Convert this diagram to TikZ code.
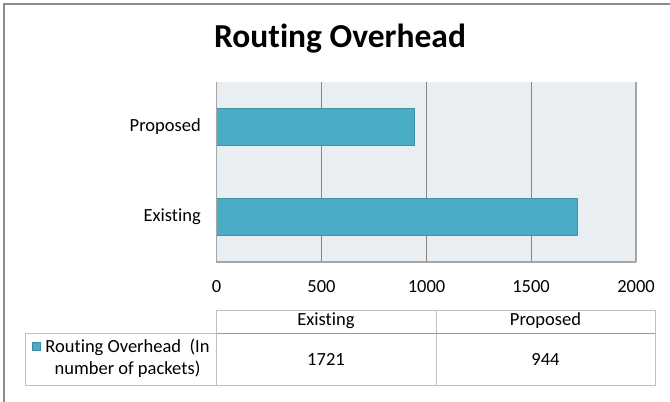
\documentclass[tikz,border=0pt]{standalone}
\usepackage{fontspec}
\setmainfont[Ligatures=NoCommon]{Carlito}
\begin{document}
\begin{tikzpicture}[x=1pt,y=-1pt,
  lbl/.style={font=\fontsize{18.5}{22}\selectfont, inner sep=0pt},
  grid/.style={draw=black!48, line width=1pt},
  axisline/.style={draw=black!35, line width=1.2pt},
  bar/.style={fill=barblue, draw=barblue!85!black, line width=0.8pt},
  cell/.style={draw=black!25, line width=1pt}]
\definecolor{barblue}{HTML}{4BACC6}
\definecolor{plotbg}{HTML}{E8EEF2}
\useasboundingbox (0,0) rectangle (670,402);
\fill[white] (0,0) rectangle (670,402);
% outer chart frame
\draw[draw=black!45, line width=2pt] (4,402) -- (4,4) -- (670,4);
% title
\node[font=\bfseries\fontsize{33.5}{38}\selectfont, inner sep=0pt] (title) at (340,38.5) {Routing Overhead};
% plot area
\fill[plotbg] (216.5,82) rectangle (636,262);
\foreach \v/\x in {500/321.5,1000/426.5,1500/531}
  \draw[grid] (\x,82) -- (\x,262);
\draw[axisline] (636,82) -- (636,262);
% bars
\draw[bar] (216.5,108.5) rectangle (414.7,145.3);
\draw[bar] (216.5,198.5) rectangle (577.6,235.3);
\draw[axisline] (216.5,82) -- (216.5,262) -- (636,262);
% category labels
\node[lbl, anchor=east] (cprop) at (201,127) {Proposed};
\node[lbl, anchor=east] (cexist) at (201,217) {Existing};
% value axis labels
\foreach \v/\x in {0/216.5,500/321.5,1000/426.5,1500/531,2000/636}
  \node[lbl] (t\v) at (\x,286.5) {\v};
% data table
\draw[cell] (216.5,310) rectangle (436,333);
\draw[cell] (436,310) rectangle (655,333);
\draw[cell] (25,333) rectangle (216.5,385);
\draw[cell] (216.5,333) rectangle (436,385);
\draw[cell] (436,333) rectangle (655,385);
\draw[draw=black!40, line width=1pt] (216.5,333) -- (655,333);
\node[lbl] (hexist) at (326,321) {Existing};
\node[lbl] (hprop) at (545.5,321) {Proposed};
\node[lbl] (vexist) at (326,359) {1721};
\node[lbl] (vprop) at (545.5,359) {944};
\fill[barblue, draw=barblue!80!black, line width=0.6pt] (32.5,342) rectangle (40.5,350);
\node[lbl, align=center] (legend) at (127.5,358) {Routing Overhead\ \ (In\\number of packets)};
\end{tikzpicture}
\end{document}
